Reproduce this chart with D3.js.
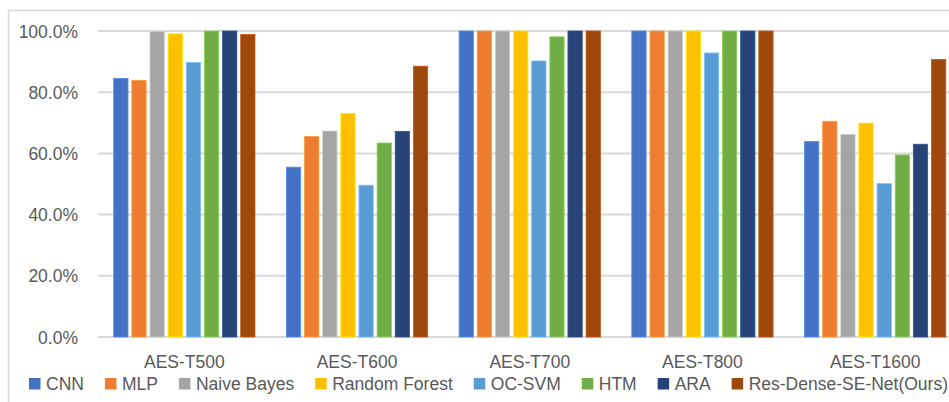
<!DOCTYPE html>
<html>
<head>
<meta charset="utf-8">
<script src="https://cdn.jsdelivr.net/npm/d3@7"></script>
<style>
  html, body { margin: 0; padding: 0; background: #fff; }
  svg { display: block; }
  text { font-family: "Liberation Sans", Arial, sans-serif; fill: #595959; }
</style>
</head>
<body>
<svg id="chart" width="949" height="402"></svg>
<script>
// Detection accuracy of each method on the five hardware Trojan benchmarks
const categories = ["AES-T500", "AES-T600", "AES-T700", "AES-T800", "AES-T1600"];
const methods = ["CNN", "MLP", "Naive Bayes", "Random Forest", "OC-SVM", "HTM", "ARA", "Res-Dense-SE-Net(Ours)"];

const cnn      = [0.845, 0.555, 1.000, 1.000, 0.639];
const mlp      = [0.839, 0.655, 1.000, 1.000, 0.705];
const naiveBayes = [0.998, 0.673, 1.000, 1.000, 0.662];
const randomForest = [0.991, 0.731, 1.000, 1.000, 0.699];
const ocSvm    = [0.897, 0.496, 0.902, 0.928, 0.501];
const htm      = [1.000, 0.634, 0.981, 1.000, 0.595];
const ara      = [1.000, 0.672, 1.000, 1.000, 0.630];
const resDenseSeNet = [0.989, 0.885, 1.000, 1.000, 0.907];

const seriesValues = [cnn, mlp, naiveBayes, randomForest, ocSvm, htm, ara, resDenseSeNet];
const yTicks = [0, 0.2, 0.4, 0.6, 0.8, 1.0];

const colors = ["#4472C4", "#ED7D31", "#A5A5A5", "#FFC000", "#5B9BD5", "#70AD47", "#264478", "#9E480E"];

const svg = d3.select("#chart");

// chart frame (right and bottom edges run past the visible area)
svg.append("path")
  .attr("d", "M8.5,402 V10.5 H949")
  .attr("fill", "none")
  .attr("stroke", "#D9D9D9")
  .attr("stroke-width", 1.5);

const plotLeft = 98, bandWidth = 172.7;
const x0 = d3.scaleBand()
  .domain(categories)
  .range([plotLeft, plotLeft + bandWidth * categories.length])
  .padding(0);

const groupWidth = x0.bandwidth() * 0.818;
const x1 = d3.scaleBand()
  .domain(methods)
  .range([(x0.bandwidth() - groupWidth) / 2, (x0.bandwidth() + groupWidth) / 2])
  .paddingInner(0.212)
  .paddingOuter(0);

const y = d3.scaleLinear().domain([0, 1]).range([337, 31]);

// horizontal gridlines
svg.append("g")
  .selectAll("line")
  .data(yTicks)
  .join("line")
  .attr("x1", plotLeft)
  .attr("x2", 949)
  .attr("y1", d => y(d))
  .attr("y2", d => y(d))
  .attr("stroke", "#D9D9D9")
  .attr("stroke-width", 2);

// y-axis labels
const fmt = d3.format(".1%");
const yAxis = d3.axisLeft(y).tickValues(yTicks).tickFormat(fmt).tickSize(0).tickPadding(0);
svg.append("g")
  .attr("transform", "translate(78,0)")
  .call(yAxis)
  .call(g => g.select(".domain").remove())
  .call(g => g.selectAll("text")
    .attr("font-size", "17.5px")
    .attr("font-family", "Liberation Sans, Arial, sans-serif")
    .attr("fill", "#595959")
    .attr("dy", "0.35em"));

// bars
const groups = svg.append("g")
  .selectAll("g")
  .data(categories)
  .join("g")
  .attr("transform", d => `translate(${x0(d)},0)`);

groups.selectAll("rect")
  .data((c, ci) => methods.map((m, mi) => ({ method: m, idx: mi, value: seriesValues[mi][ci] })))
  .join("rect")
  .attr("x", d => x1(d.method))
  .attr("width", x1.bandwidth())
  .attr("y", d => y(d.value))
  .attr("height", d => y(0) - y(d.value))
  .attr("fill", d => colors[d.idx])
  .attr("stroke", d => d3.color(colors[d.idx]).brighter(0.6))
  .attr("stroke-width", 0.8);

// category labels
const xAxis = d3.axisBottom(x0).tickSize(0).tickPadding(0);
svg.append("g")
  .attr("transform", "translate(0,356)")
  .call(xAxis)
  .call(g => g.select(".domain").remove())
  .call(g => g.selectAll("text")
    .attr("font-size", "17.5px")
    .attr("font-family", "Liberation Sans, Arial, sans-serif")
    .attr("fill", "#595959")
    .attr("dy", "0.71em"));

// legend
const legend = svg.append("g").attr("transform", "translate(29,0)");
let cursor = 0;
methods.forEach((m, i) => {
  const item = legend.append("g").attr("transform", `translate(${cursor},0)`);
  item.append("rect")
    .attr("x", 0)
    .attr("y", 378)
    .attr("width", 11.5)
    .attr("height", 11.5)
    .attr("fill", colors[i]);
  const t = item.append("text")
    .attr("x", 17)
    .attr("y", 390)
    .attr("font-size", "17.5px")
    .text(m);
  cursor += 17 + t.node().getComputedTextLength() + 21;
});
</script>
</body>
</html>
